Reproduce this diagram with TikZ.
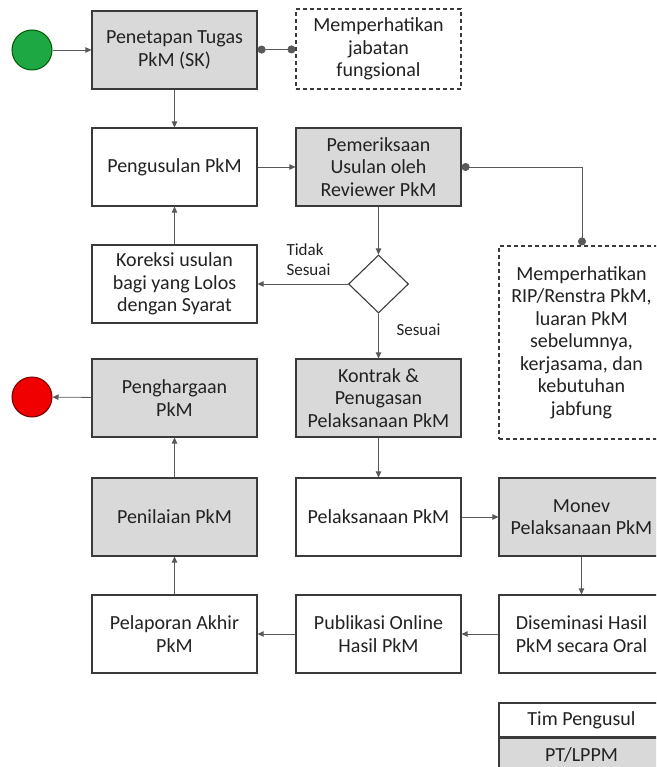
\documentclass[tikz,border=0pt]{standalone}
\usepackage{fontspec}
\setmainfont{Carlito}
\usetikzlibrary{arrows.meta,shapes.geometric}
\definecolor{boxgray}{HTML}{D9D9D9}
\definecolor{txt}{HTML}{222222}
\definecolor{linec}{HTML}{595959}
\definecolor{edge}{HTML}{3A3A3A}
\definecolor{startg}{HTML}{1DA844}
\definecolor{endr}{HTML}{F00000}
\begin{document}
\begin{tikzpicture}[x=1pt,y=-1pt,
  every node/.style={text=txt,font=\fontsize{20}{22.5}\selectfont},
  box/.style={draw=edge,line width=1.2pt,minimum width=165pt,minimum height=78pt,align=center,inner sep=2pt},
  gbox/.style={box,fill=boxgray},
  wbox/.style={box,fill=white},
  note/.style={draw=edge,line width=1.1pt,dashed,dash pattern=on 4pt off 3pt,align=center,minimum width=165pt,fill=white},
  conn/.style={draw=linec,line width=0.8pt,-{Triangle[length=6pt,width=5.5pt]}},
  dotconn/.style={draw=linec,line width=0.8pt,{Circle[length=8pt]}-{Circle[length=8pt]}},
  lbl/.style={font=\fontsize{17}{20}\selectfont,align=left},
  term/.style={circle,minimum size=40pt,inner sep=0pt,line width=1pt}
]
\useasboundingbox (0,0) rectangle (656,767);
\clip (0,0) rectangle (656,767);
\fill[white] (0,0) rectangle (656,767);

% start / end
\node[term,fill=startg,draw=green!35!black] (start) at (32,50) {};
\node[term,fill=endr,draw=red!45!black] (stop) at (32,397) {};

% left column
\node[gbox] (tugas) at (174.5,50) {Penetapan Tugas\\PkM (SK)};
\node[wbox] (usul) at (174.5,167) {Pengusulan PkM};
\node[wbox] (koreksi) at (174.5,284) {Koreksi usulan\\bagi yang Lolos\\dengan Syarat};
\node[gbox] (harga) at (174.5,398) {Penghargaan\\PkM};
\node[gbox] (nilai) at (174.5,517) {Penilaian PkM};
\node[wbox] (lapor) at (174.5,634) {Pelaporan Akhir\\PkM};

% middle column
\node[note,minimum height=80pt] (jab) at (378.5,49) {Memperhatikan\\jabatan\\fungsional};
\node[gbox] (periksa) at (378.5,167) {Pemeriksaan\\Usulan oleh\\Reviewer PkM};
\node[diamond,draw=edge,line width=1.1pt,fill=white,minimum width=60pt,minimum height=58pt,inner sep=0pt,aspect=1] (dec) at (378.5,284) {};
\node[gbox] (kontrak) at (378.5,398) {Kontrak \&\\Penugasan\\Pelaksanaan PkM};
\node[wbox] (laksana) at (378.5,517) {Pelaksanaan PkM};
\node[wbox] (publik) at (378.5,634) {Publikasi Online\\Hasil PkM};

% right column
\node[note,minimum height=193pt] (rip) at (581.5,342.5) {Memperhatikan\\RIP/Renstra PkM,\\luaran PkM\\sebelumnya,\\kerjasama, dan\\kebutuhan\\jabfung};
\node[gbox] (monev) at (581.5,517) {Monev\\Pelaksanaan PkM};
\node[wbox] (disem) at (581.5,634) {Diseminasi Hasil\\PkM secara Oral};

% legend
\node[wbox,minimum height=34pt] (leg1) at (581.5,720) {Tim Pengusul};
\node[gbox,minimum height=34pt,anchor=north] (leg2) at (leg1.south) {PT/LPPM};

% connectors
\draw[conn] (start) -- (tugas);
\draw[dotconn] (tugas) -- (jab);
\draw[conn] (tugas) -- (usul);
\draw[conn] (usul) -- (periksa);
\coordinate (bend) at (582,167);
\draw[dotconn] (periksa.east) -- (bend) -- (rip.north -| bend);
\draw[conn] (periksa) -- (dec.north);
\draw[conn] (dec.west) -- (koreksi.east);
\draw[conn] (koreksi) -- (usul);
\draw[conn] (dec.south) -- (kontrak);
\draw[conn] (kontrak) -- (laksana);
\draw[conn] (laksana) -- (monev);
\draw[conn] (monev) -- (disem);
\draw[conn] (disem) -- (publik);
\draw[conn] (publik) -- (lapor);
\draw[conn] (lapor) -- (nilai);
\draw[conn] (nilai) -- (harga);
\draw[conn] (harga) -- (stop);

% labels
\node[lbl,anchor=south west] (ltidak) at (283,279) {Tidak\\Sesuai};
\node[lbl,anchor=west] (lsesuai) at (393,330) {Sesuai};
\end{tikzpicture}
\end{document}
